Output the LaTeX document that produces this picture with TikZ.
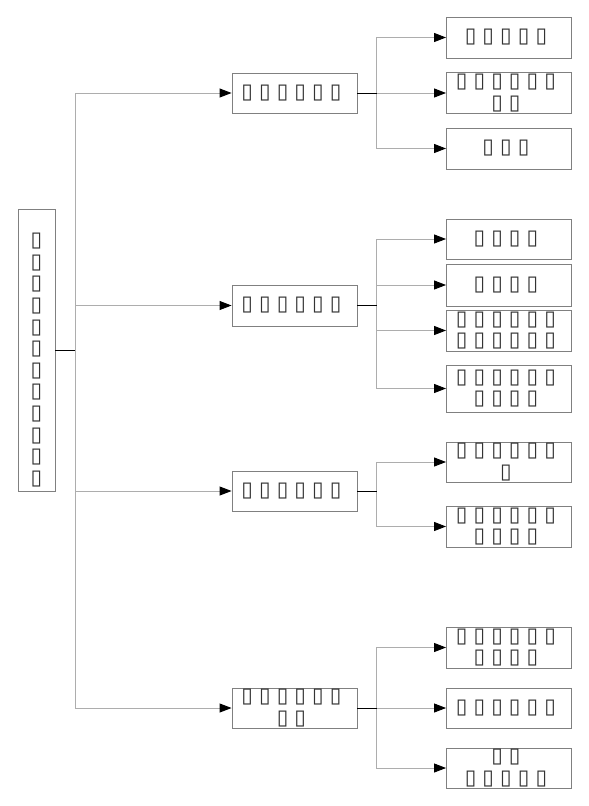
\documentclass[tikz,border=0pt]{standalone}
\usepackage{fontspec}
\usetikzlibrary{arrows.meta}
\newfontfamily\djv{DejaVu Sans}
\newcommand\tg{\makebox[17.7pt][l]{▯}}
\tikzset{
  box/.style={draw=black!50, line width=0.9pt, fill=white, inner sep=0pt, align=center,
     font=\djv\fontsize{21}{21.6}\selectfont, text=black!80},
  lone/.style={box, minimum width=125pt, minimum height=40pt},
  ltwo/.style={box, minimum width=125pt, minimum height=41pt},
  stub/.style={draw=black, line width=0.9pt},
  conn/.style={draw=black!32, line width=0.9pt},
  arr/.style={conn, -{Triangle[length=12pt,width=9pt,fill=black,color=black]}},
}
\begin{document}
\begin{tikzpicture}[x=1pt,y=-1pt]
\useasboundingbox (0,0) rectangle (589,806);
% root
\node[box, minimum width=37pt, minimum height=282pt] (root) at (36.5,350) {};
\node[box, draw=none, fill=none, text width=20pt] (rootT) at (36.5,360)
  {▯\\▯\\▯\\▯\\▯\\▯\\▯\\▯\\▯\\▯\\▯\\▯};
% level 1
\node[lone] (A) at (294.5,93) {\tg\tg\tg\tg\tg\tg};
\node[ltwo] (B) at (294.5,305.5) {\tg\tg\tg\tg\tg\tg};
\node[lone] (C) at (294.5,491) {\tg\tg\tg\tg\tg\tg};
\node[lone] (D) at (294.5,708) {\tg\tg\tg\tg\tg\tg\\\tg\tg};
% level 2
\node[ltwo] (A1) at (509,37.5) {\tg\tg\tg\tg\tg};
\node[ltwo] (A2) at (509,93) {\tg\tg\tg\tg\tg\tg\\\tg\tg};
\node[ltwo] (A3) at (509,148.5) {\tg\tg\tg};
\node[lone] (B1) at (509,239) {\tg\tg\tg\tg};
\node[box, minimum width=125pt, minimum height=42pt] (B2) at (509,285) {\tg\tg\tg\tg};
\node[ltwo] (B3) at (509,330.5) {\tg\tg\tg\tg\tg\tg\\\tg\tg\tg\tg\tg\tg};
\node[box, minimum width=125pt, minimum height=47pt] (B4) at (509,388.5) {\tg\tg\tg\tg\tg\tg\\\tg\tg\tg\tg};
\node[lone] (C1) at (509,462) {\tg\tg\tg\tg\tg\tg\\\tg};
\node[ltwo] (C2) at (509,526.5) {\tg\tg\tg\tg\tg\tg\\\tg\tg\tg\tg};
\node[ltwo] (D1) at (509,647.5) {\tg\tg\tg\tg\tg\tg\\\tg\tg\tg\tg};
\node[lone] (D2) at (509,708) {\tg\tg\tg\tg\tg\tg};
\node[lone] (D3) at (509,768) {\tg\tg\\\tg\tg\tg\tg\tg};
% junctions
\coordinate (T) at (75,350);
\coordinate (JA) at (376.5,93);
\coordinate (JB) at (376.5,305.5);
\coordinate (JC) at (376.5,491);
\coordinate (JD) at (376.5,708);
% trunk
\foreach \n in {A,B,C,D} \draw[arr] (T) |- (\n.west);
\draw[stub] (root.east |- T) -- (T);
% branches
\foreach \n in {A1,A2,A3} \draw[arr] (JA) |- (\n.west);
\foreach \n in {B1,B2,B3,B4} \draw[arr] (JB) |- (\n.west);
\foreach \n in {C1,C2} \draw[arr] (JC) |- (\n.west);
\foreach \n in {D1,D2,D3} \draw[arr] (JD) |- (\n.west);
\foreach \p/\j in {A/JA,B/JB,C/JC,D/JD} \draw[stub] (\p.east) -- (\j);
\end{tikzpicture}
\end{document}
